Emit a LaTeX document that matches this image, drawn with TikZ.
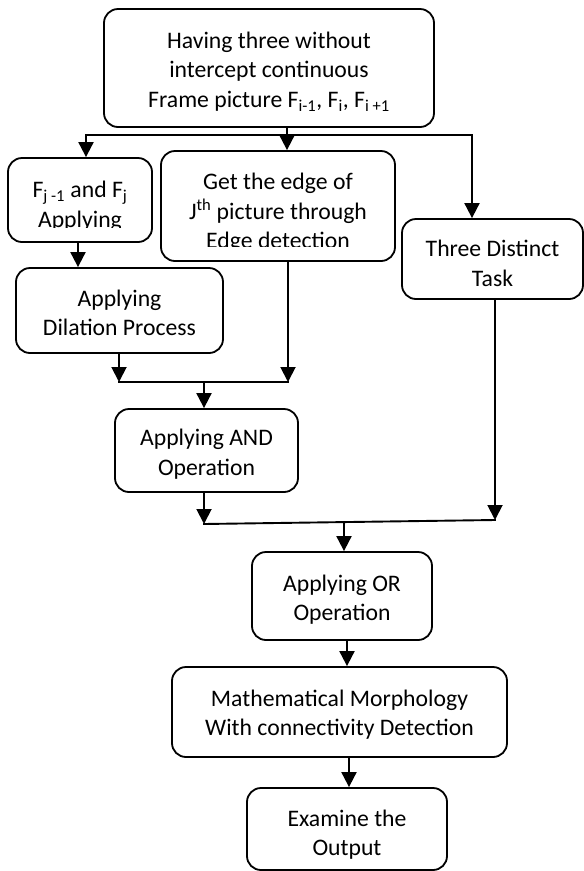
\documentclass[tikz,border=0pt]{standalone}
\usepackage{fontspec}
\setmainfont{Carlito}
\usetikzlibrary{arrows.meta}
\begin{document}
\begin{tikzpicture}[x=1pt,y=-1pt,
  box/.style={draw, line width=1.8pt, rounded corners=14pt, inner sep=0pt},
  lbl/.style={inner sep=0pt, align=center, font=\fontsize{23.7}{29.5}\selectfont},
  flow/.style={line width=1.9pt, -{Triangle[width=15pt,length=15pt]}},
  link/.style={line width=1.9pt, line cap=rect}]
\useasboundingbox (0,0) rectangle (584,871);

% process boxes
\node[box, minimum width=330pt, minimum height=118pt] (top) at (269,68) {};
\node[box, minimum width=144pt, minimum height=84pt] (fj) at (80,200) {};
\node[box, minimum width=234pt, minimum height=110pt] (edge) at (278,206) {};
\node[box, minimum width=181pt, minimum height=80pt] (three) at (492.5,259) {};
\node[box, minimum width=207pt, minimum height=85pt] (dil) at (119.5,310.5) {};
\node[box, minimum width=183pt, minimum height=83pt] (andop) at (206.5,450.5) {};
\node[box, minimum width=180pt, minimum height=88pt] (orop) at (342,596) {};
\node[box, minimum width=335pt, minimum height=90pt] (math) at (339.5,712) {};
\node[box, minimum width=200pt, minimum height=82pt] (exam) at (347,829) {};

% box texts
\node[lbl, yshift=-3.5pt] (toptext) at (top)
  {Having three without\\intercept continuous\\Frame picture F\textsubscript{i-1}, F\textsubscript{i}, F\textsubscript{i +1}};
\begin{scope}
  \clip (8,160) rectangle (152,227);
  \node[lbl] (fjtext) at (80,206.5) {F\textsubscript{j -1} and F\textsubscript{j}\\Applying};
\end{scope}
\begin{scope}
  \clip (161,153) rectangle (395,246);
  \node[lbl] (edgetext) at (278,213) {Get the edge of\\J\textsuperscript{th} picture through\\Edge detection};
\end{scope}
\node[lbl, yshift=-4.5pt] (threetext) at (three) {Three Distinct\\Task};
\node[lbl, yshift=-2.5pt] (diltext) at (dil) {Applying\\Dilation Process};
\node[lbl, yshift=-3.5pt] (andtext) at (andop) {Applying AND\\Operation};
\node[lbl, yshift=-3.5pt] (ortext) at (orop) {Applying OR\\Operation};
\node[lbl, yshift=-2.5pt] (mathtext) at (math) {Mathematical Morphology\\With connectivity Detection};
\node[lbl, yshift=-5.5pt] (examtext) at (exam) {Examine the\\Output};

% junction points
\coordinate (split) at (287,135);
\coordinate (splitL) at (86,135);
\coordinate (splitR) at (472,135);
\coordinate (xa) at (78,0);
\coordinate (andL) at (119,382);
\coordinate (andR) at (288,382);
\coordinate (andM) at (204,382);
\coordinate (orL) at (204,524);
\coordinate (orR) at (495,520);
\coordinate (orM) at (344,522);
\coordinate (xb) at (347,0);
\coordinate (xc) at (349,0);

% connectors
\draw[flow] (top.south -| split) -- (edge.north -| split);
\draw[link] (splitL) -- (splitR);
\draw[flow] (splitL) -- (fj.north -| splitL);
\draw[flow] (splitR) -- (three.north -| splitR);
\draw[flow] (fj.south -| xa) -- (dil.north -| xa);
\draw[flow] (dil.south -| andL) -- (andL);
\draw[flow] (edge.south -| andR) -- (andR);
\draw[link] (andL) -- (andR);
\draw[flow] (andM) -- (andop.north -| andM);
\draw[flow] (andop.south -| orL) -- (orL);
\draw[flow] (three.south -| orR) -- (orR);
\draw[link] (orL) -- (orR);
\draw[flow] (orM) -- (orop.north -| orM);
\draw[flow] (orop.south -| xb) -- (math.north -| xb);
\draw[flow] (math.south -| xc) -- (exam.north -| xc);
\end{tikzpicture}
\end{document}
